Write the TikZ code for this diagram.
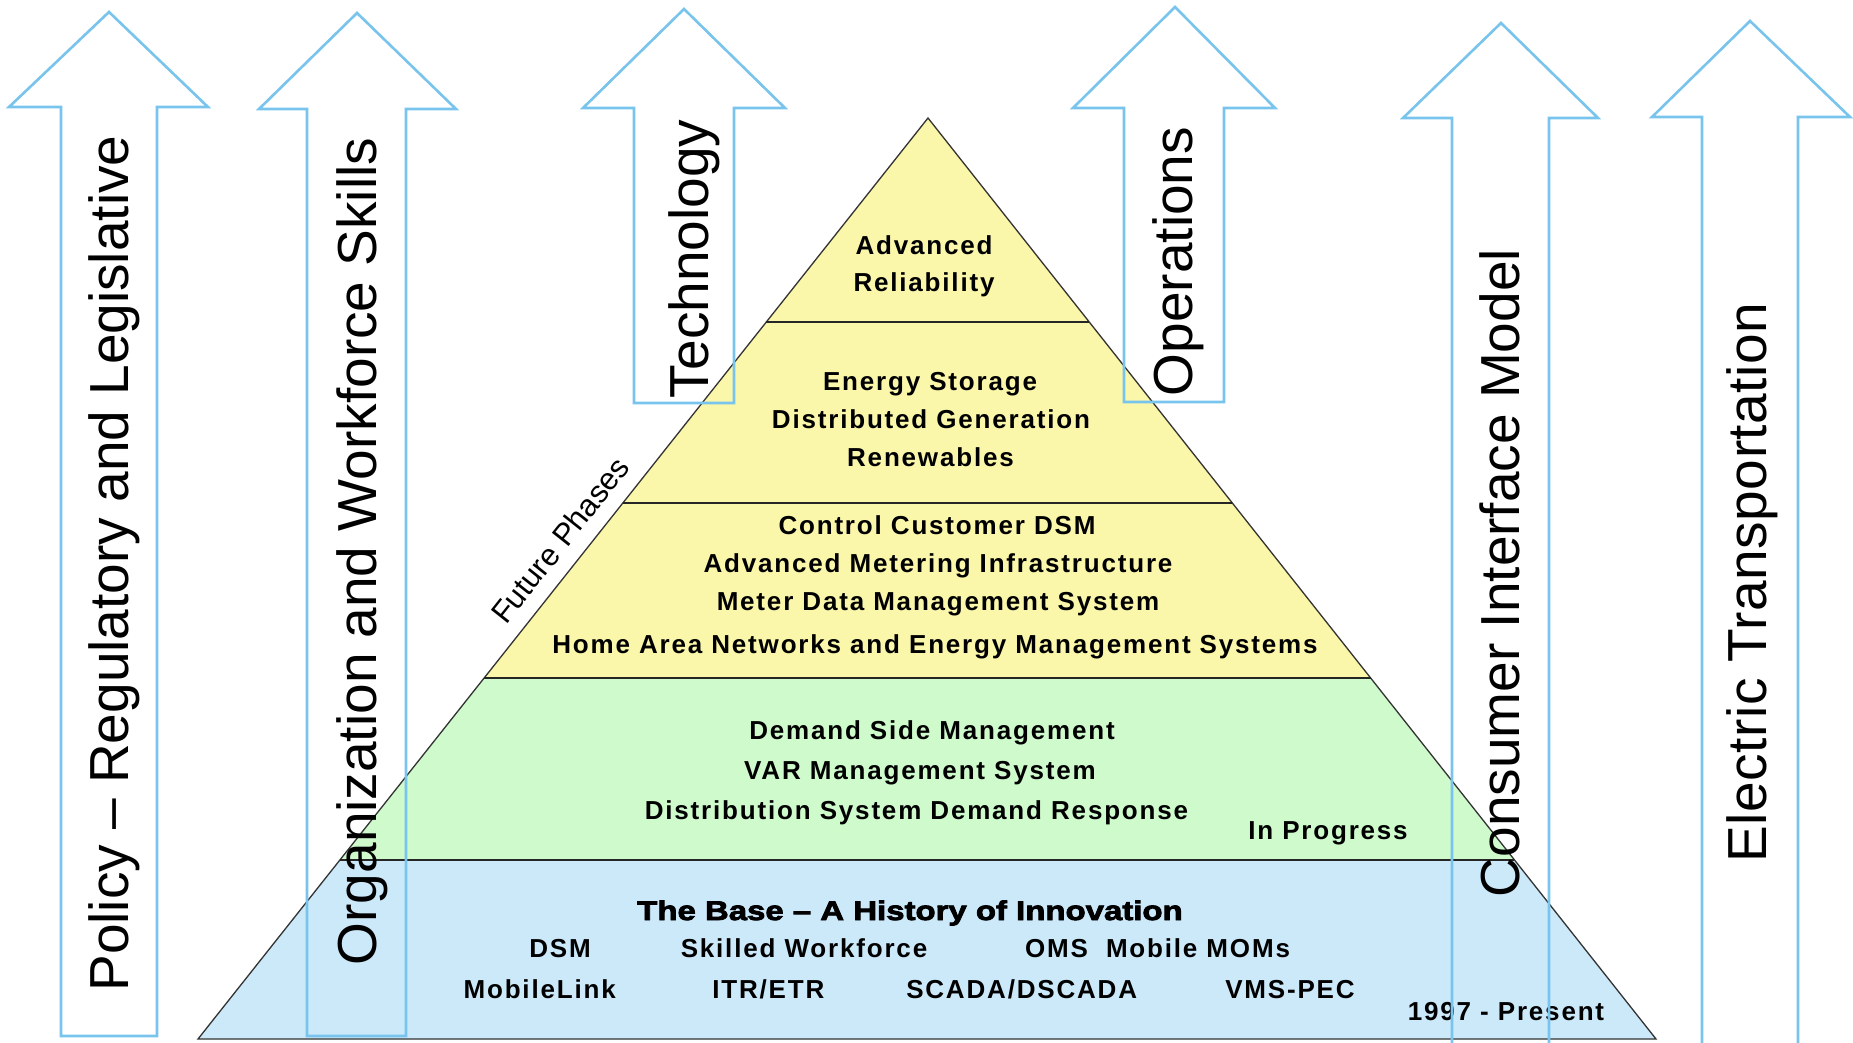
\documentclass[tikz,border=0pt]{standalone}
\usepackage{fontspec}
\setmainfont{Liberation Sans}
\newfontfamily\pyrfont[LetterSpace=7]{Liberation Sans}
\newfontfamily\heavyfont[BoldFeatures={FakeBold=3,FakeStretch=1.22}]{Liberation Sans}
\usetikzlibrary{calc}
\definecolor{arrowblue}{RGB}{120,196,236}
\definecolor{pyryellow}{RGB}{250,246,170}
\definecolor{pyrgreen}{RGB}{206,250,204}
\definecolor{pyrblue}{RGB}{204,233,250}
\begin{document}
\begin{tikzpicture}[x=1pt,y=-1pt,
  bigarrow/.style={draw=arrowblue, line width=2.6pt, line join=miter},
  arrowlabel/.style={anchor=base, rotate=90, inner sep=0pt, font=\fontsize{55}{60}\selectfont},
  pyr/.style={anchor=base, inner sep=0pt, font=\pyrfont\bfseries\fontsize{26}{30}\selectfont},
  heavy/.style={anchor=base, inner sep=0pt, font=\heavyfont\bfseries\fontsize{27}{30}\selectfont},
  pyrline/.style={draw=black!80, line width=1.3pt},
  sepline/.style={draw=black!85, line width=1.8pt}]
\clip (0,0) rectangle (1853,1042);
\fill[white] (0,0) rectangle (1853,1042);

% pyramid
\coordinate (apex) at (928,118);
\coordinate (bl) at (198,1039);
\coordinate (br) at (1656,1039);
\coordinate (l1) at ($(apex)!0.2215!(bl)$);
\coordinate (r1) at ($(apex)!0.2215!(br)$);
\coordinate (l2) at ($(apex)!0.4180!(bl)$);
\coordinate (r2) at ($(apex)!0.4180!(br)$);
\coordinate (l3) at ($(apex)!0.6080!(bl)$);
\coordinate (r3) at ($(apex)!0.6080!(br)$);
\coordinate (l4) at ($(apex)!0.8056!(bl)$);
\coordinate (r4) at ($(apex)!0.8056!(br)$);
\fill[pyryellow] (apex) -- (bl) -- (br) -- cycle;
\fill[pyrgreen] (l3) -- (r3) -- (br) -- (bl) -- cycle;
\fill[pyrblue] (l4) -- (r4) -- (br) -- (bl) -- cycle;
\draw[pyrline] (apex) -- (bl) -- (br) -- cycle;
\draw[sepline] (l1) -- (r1);
\draw[sepline] (l2) -- (r2);
\draw[sepline] (l3) -- (r3);
\draw[sepline] (l4) -- (r4);

% pyramid texts
\node[pyr] (t1a) at (924,254) {Advanced};
\node[pyr] (t1b) at (924,291.7) {Reliability};
\node[pyr] (t2a) at (930,390) {Energy Storage};
\node[pyr] (t2b) at (931,428) {Distributed Generation};
\node[pyr] (t2c) at (930.5,466.7) {Renewables};
\node[pyr] (t3a) at (937,534.5) {Control Customer DSM};
\node[pyr] (t3b) at (938,572.5) {Advanced Metering Infrastructure};
\node[pyr] (t3c) at (938,610.5) {Meter Data Management System};
\node[pyr] (t3d) at (935,653) {Home Area Networks and Energy Management Systems};
\node[pyr] (t4a) at (932,739) {Demand Side Management};
\node[pyr] (t4b) at (920,779) {VAR Management System};
\node[pyr] (t4c) at (916.5,819) {Distribution System Demand Response};
\node[pyr] (t4d) at (1328,839) {In Progress};
\node[heavy] (t5a) at (910,920) {The Base – A History of Innovation};
\node[pyr] (t5b) at (560,957) {DSM};
\node[pyr] (t5c) at (804,957) {Skilled Workforce};
\node[pyr] (t5d) at (1157.5,957) {OMS\ \ Mobile MOMs};
\node[pyr] (t5e) at (539.7,998) {MobileLink};
\node[pyr] (t5f) at (768.3,998) {ITR/ETR};
\node[pyr] (t5g) at (1021.7,998) {SCADA/DSCADA};
\node[pyr] (t5h) at (1290,998) {VMS-PEC};
\node[pyr] (t5i) at (1506,1020) {1997 - Present};
\node[rotate=51.6, inner sep=0pt, font=\fontsize{31}{34}\selectfont] (fp) at (560,540) {Future Phases};

% arrows
\draw[bigarrow] (61,1036) -- (61,107) -- (9,107) -- (109,12) -- (208,107) -- (157,107) -- (157,1036) -- cycle;
\draw[bigarrow] (307,1036) -- (307,109) -- (259,109) -- (357,13) -- (456,109) -- (406,109) -- (406,1036) -- cycle;
\draw[bigarrow] (634,403) -- (634,108) -- (583,108) -- (684,9) -- (785,108) -- (734,108) -- (734,403) -- cycle;
\draw[bigarrow] (1124,402) -- (1124,108) -- (1073,108) -- (1175,7) -- (1275,108) -- (1224,108) -- (1224,402) -- cycle;
\draw[bigarrow] (1452,1070) -- (1452,118) -- (1403,118) -- (1501,23) -- (1598,118) -- (1549,118) -- (1549,1070);
\draw[bigarrow] (1702,1070) -- (1702,117) -- (1652,117) -- (1750,21) -- (1850,117) -- (1798,117) -- (1798,1070);

% arrow labels
\node[arrowlabel] (lpol) at (128,563.5) {Policy – Regulatory and Legislative};
\node[arrowlabel] (lorg) at (376,551.5) {Organization and Workforce Skills};
\node[arrowlabel] (ltec) at (708,259) {Technology};
\node[arrowlabel] (lops) at (1192,261.5) {Operations};
\node[arrowlabel] (lcon) at (1519,573) {Consumer Interface Model};
\node[arrowlabel, font=\addfontfeatures{LetterSpace=1}\fontsize{55}{60}\selectfont] (lele) at (1766.5,582.5) {Electric Transportation};
\end{tikzpicture}
\end{document}
